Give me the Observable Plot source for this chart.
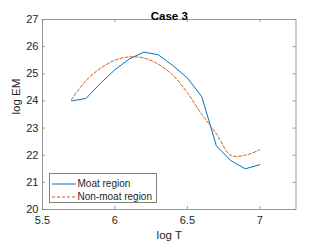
<!DOCTYPE html>
<html><head><meta charset="utf-8">
<script src="https://cdn.jsdelivr.net/npm/d3@7"></script>
<script src="https://cdn.jsdelivr.net/npm/@observablehq/plot@0.6"></script>
<style>
html,body{margin:0;padding:0;background:#fff;}
#wrap{position:relative;width:327px;height:245px;font-family:"Liberation Sans",Arial,sans-serif;}
#legend{position:absolute;left:48.5px;top:173px;width:108.5px;height:30px;border:0.8px solid #808080;background:#fff;box-sizing:border-box;font-size:10px;color:#262626;}
#legend .row{position:absolute;left:2px;height:12px;display:flex;align-items:center;}
#legend svg{display:block;}
#legend span{margin-left:2px;white-space:nowrap;}
</style></head>
<body><div id="wrap"></div>
<script>
const logT = [5.7,5.8,5.9,6.0,6.1,6.2,6.3,6.4,6.5,6.6,6.7,6.8,6.9,7.0];
const moat = [24.0,24.09,24.65,25.15,25.55,25.8,25.7,25.3,24.85,24.15,22.35,21.8,21.5,21.65];
const nonMoat = [24.05,24.75,25.2,25.5,25.62,25.58,25.35,24.95,24.3,23.5,22.8,22.0,22.0,22.2];
const xTicks = [5.5,6,6.5,7];
const yTicks = [20,21,22,23,24,25,26,27];
const seriesNames = ["Moat region","Non-moat region"];
const colors = ["#0072BD","#D95319"];

const moatData = logT.map((x,i)=>({x, y: moat[i]}));
const nonData = logT.map((x,i)=>({x, y: nonMoat[i]}));
const W=327,H=245, mL=42, mR=31.5, mT=19, mB=36;
const fh = H-mT-mB;
const axisCol = "#808080";
const textCol = "#262626";

const chart = Plot.plot({
  width: W, height: H,
  marginLeft: mL, marginRight: mR, marginTop: mT, marginBottom: mB,
  style: {fontFamily: '"Liberation Sans", Arial, sans-serif', fontSize: "10px", color: textCol, background: "#fff"},
  x: {domain: [5.5, 7.25]},
  y: {domain: [20, 27]},
  marks: [
    Plot.frame({stroke: axisCol, strokeWidth: 0.8}),
    Plot.tickX(xTicks, {x: d=>d, insetTop: fh-3, stroke: axisCol, strokeWidth: 0.8}),
    Plot.tickX(xTicks, {x: d=>d, insetBottom: fh-3, stroke: axisCol, strokeWidth: 0.8}),
    Plot.tickY(yTicks, {y: d=>d, insetRight: W-mL-mR-3, stroke: axisCol, strokeWidth: 0.8}),
    Plot.tickY(yTicks, {y: d=>d, insetLeft: W-mL-mR-3, stroke: axisCol, strokeWidth: 0.8}),
    Plot.axisX({ticks: xTicks, tickSize: 0, tickPadding: 7, tickFormat: d=>String(d), fontSize: 11, label: null, fill: textCol}),
    Plot.axisY({ticks: yTicks, tickSize: 0, tickPadding: 4, tickFormat: d=>String(d), fontSize: 11, label: null, fill: textCol}),
    Plot.line(moatData, {x:"x", y:"y", stroke: colors[0], strokeWidth: 1}),
    Plot.line(nonData, {x:"x", y:"y", stroke: colors[1], strokeWidth: 1, strokeDasharray: "3,2", curve: "catmull-rom"}),
    Plot.text(["Case 3"], {frameAnchor: "top", dy: -8, fontWeight: "bold", fontSize: 11.5, fill: "#000"}),
    Plot.text(["log T"], {frameAnchor: "bottom", dy: 29, fontSize: 11.5, fill: textCol}),
    Plot.text(["log EM"], {frameAnchor: "left", dx: -26, rotate: -90, fontSize: 11.5, fill: textCol})
  ]
});
const wrap = document.getElementById("wrap");
wrap.appendChild(chart);
const leg = document.createElement("div");
leg.id = "legend";
seriesNames.forEach((name,i)=>{
  const row = document.createElement("div");
  row.className = "row";
  row.style.top = (i===0 ? 3.5 : 16.5) + "px";
  row.innerHTML = `<svg width="24" height="6"><line x1="0" x2="24" y1="3" y2="3" stroke="${colors[i]}" stroke-width="1" ${i===1?'stroke-dasharray="3,2"':''}/></svg><span>${name}</span>`;
  leg.appendChild(row);
});
wrap.appendChild(leg);
</script></body></html>
